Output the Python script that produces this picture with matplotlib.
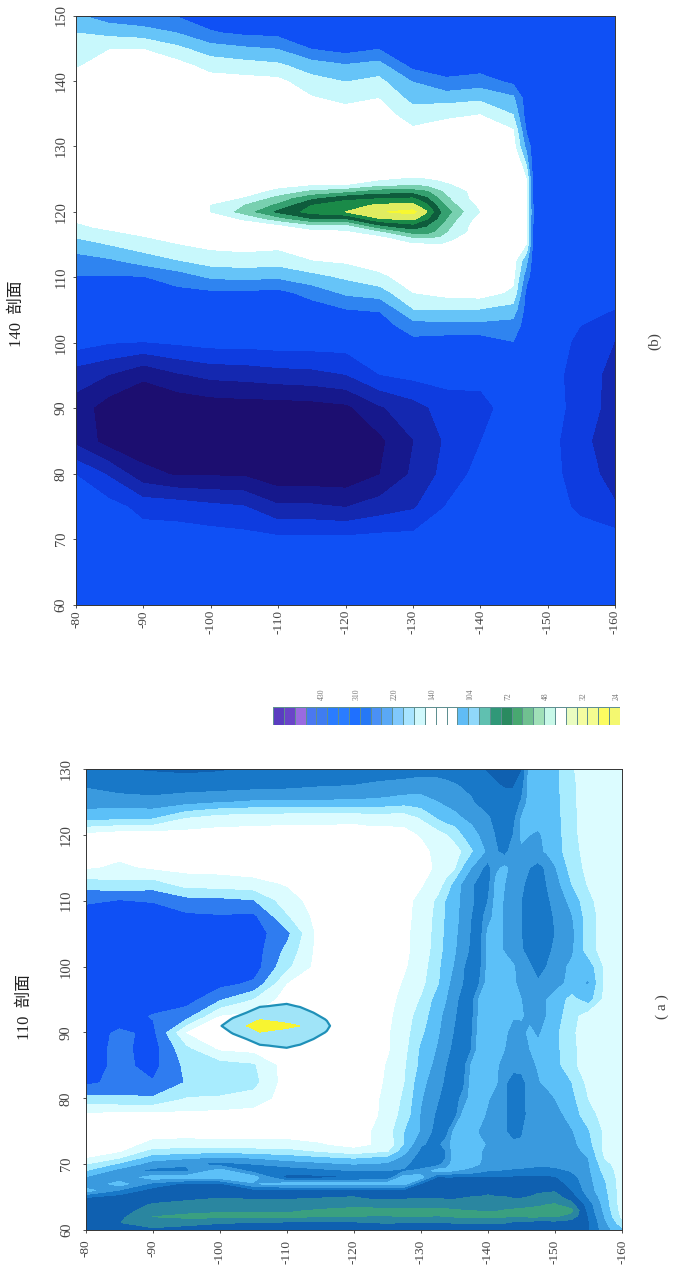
# -*- coding: utf-8 -*-
# 110 / 140 profiles, class values
import numpy as np
import matplotlib
matplotlib.use('Agg')
import matplotlib.pyplot as plt
from matplotlib.colors import ListedColormap

W, H = 676, 1278

# class index: 0 = white, positive = towards dark blue, negative = towards green
depth_a = [80, 85, 90, 95, 100, 105, 110, 115, 120, 122.5, 125, 127.5,
           130, 132.5, 133.75, 135, 136.25, 137.5, 138.75, 140, 141.25, 142.5, 143.75, 145, 146.25, 147.5, 148.75, 150,
           152.5, 155, 157.5, 160]
lon_a = [60, 61, 62, 63, 64, 65, 66, 67, 68, 69, 70, 71, 72, 73, 75, 77.5, 80, 82.5, 85, 87.5,
         90, 92.5, 95, 97.5, 100, 102.5, 105, 107.5, 110, 112.5, 115, 117.5, 120, 122.5, 125, 127.5, 130]
class_a = [
    [-6,-6.3,-6.4,-6.2,-6,-6,-6,-6,-6,-6,-6,-6, -6,-6,-6,-6,-6,-6,-6,-6,-6,-6,-6,-6,-6,-6,-6,-6, -6,-5.6,-3.9,-2.8],
    [-6,-6.5,-6.9,-6.8,-6.6,-6.5,-6.4,-6.4,-6.4,-6.5,-6.6,-6.5, -6.5,-6.5,-6.5,-6.6,-6.6,-6.6,-6.6,-6.6,-6.6,-6.6,-6.4,-6.2,-6.2,-6.1,-6.1,-6.2, -6,-5.6,-3.7,-2],
    [-6,-6.3,-7.6,-7.9,-7.9,-7.8,-7.8,-7.7,-7.7,-7.5,-7.5,-7.6, -7.6,-7.5,-7.6,-7.7,-7.8,-7.8,-7.8,-7.8,-7.7,-7.7,-7.7,-7.7,-7.8,-7.8,-7.8,-7.7, -7.2,-5.5,-3.4,-1.3],
    [-6,-6.1,-7,-7.2,-7.4,-7.4,-7.4,-7.7,-8,-8,-7.9,-7.9, -7.9,-7.9,-7.8,-7.7,-7.6,-7.6,-7.5,-7.5,-7.5,-7.6,-7.7,-7.8,-7.9,-8,-8,-8, -7.9,-5.2,-3.2,-1.1],
    [-6,-6,-6.6,-6.8,-6.9,-6.9,-6.9,-7,-7.1,-7,-7,-7, -7,-7,-7,-7,-7,-7,-7,-7,-7,-7.1,-7.1,-7.1,-7.2,-7.3,-7.5,-7.6, -6.9,-5,-3,-1],
    [-5.4,-6,-6,-6.3,-6.5,-6.4,-6.4,-6.5,-6.6,-6.4,-6.3,-6.4, -6.5,-6.5,-6.4,-6.4,-6.5,-6.6,-6.6,-6.7,-6.6,-6.6,-6.5,-6.5,-6.6,-6.8,-6.9,-7, -6.1,-4.4,-2.9,-1],
    [-3,-4.6,-6,-6,-6.1,-6,-6,-6,-6.1,-6,-6,-6, -6,-6,-6,-6,-6,-6.1,-6.2,-6.3,-6.2,-6.2,-6.1,-6.1,-6.2,-6.4,-6.4,-6.5, -5.5,-4,-2.7,-1],
    [-4.6,-3,-4.8,-5.8,-5.8,-3.6,-3,-3,-3,-3,-3,-3, -5.6,-6,-6,-6,-6,-6,-6,-6,-6,-6,-6,-6,-6,-6,-6,-6, -5.2,-3.9,-2.6,-1],
    [-3.6,-4.3,-3,-3,-3,-3,-5.9,-5.8,-5.6,-5.4,-5.2,-3, -3,-5.7,-5.6,-5.6,-5.6,-5.6,-5.6,-5.6,-5.6,-5.6,-5.7,-5.7,-5.7,-5.7,-5.7,-5.6, -4.9,-3.8,-2.4,-1],
    [-2.5,-3.9,-4.8,-4.7,-3,-5,-5.1,-4.8,-4.5,-4.5,-4.5,-4.6, -4.3,-3,-3.2,-3.5,-3.6,-3.8,-4.2,-4.5,-4.5,-4.6,-4.7,-4.8,-4.9,-5,-5,-4.9, -4.4,-3.7,-2.1,-1],
    [-1.5,-2.7,-4,-4.4,-4.9,-4.5,-4.1,-3.8,-3.5,-3.6,-3.7,-4.3, -5,-5,-4,-3.1,-3.1,-3.2,-3.5,-3.9,-3.9,-4,-4,-4,-4.1,-4.2,-4.2,-4.1, -4,-3.6,-1.8,-1],
    [-.5,-1.4,-3,-3.3,-3.6,-3.4,-3,-2.7,-2.4,-2.6,-2.8,-3.8, -5,-5,-4.5,-3,-3,-3,-3.4,-3.8,-3.9,-4,-4,-4,-4,-4,-4,-4, -4,-3.5,-1.4,-1],
    [0,-.4,-1.9,-2,-2.2,-2,-1.9,-1.4,-.9,-1.2,-1.4,-3.2, -4.7,-5,-4.5,-3,-3,-3,-3.4,-3.8,-3.9,-4,-4,-4,-4,-4,-4,-4, -3.9,-3.2,-1.2,-1],
    [0,0,-.9,-1,-.9,-.9,-.9,-.6,-.2,-.5,-.8,-2.6, -4.4,-4.8,-4,-3,-3,-3,-3.3,-3.6,-3.9,-4.2,-4.3,-4.4,-4.2,-4,-4,-4, -3.8,-2.9,-1.2,-.9],
    [0,0,0,0,0,0,0,0,0,-.5,-1.1,-2.5, -3.6,-5,-5,-3.2,-3,-3,-3.6,-3.9,-4.1,-4.4,-4.9,-4.6,-4,-4,-4,-4, -3.6,-2.6,-1.3,-1],
    [.3,0,.1,.2,.1,0,0,0,0,-.2,-.9,-1.9, -3.6,-4.7,-5,-5,-3.3,-3,-3.1,-3.7,-4,-4.4,-4.9,-4.9,-4.2,-4,-4,-4, -3,-2,-1,-.9],
    [2.1,2.3,2.3,1.4,1.4,1.1,0,0,0,-.2,-.8,-1.7, -3.4,-4.4,-5,-5,-4.2,-3.1,-3.1,-3.4,-3.9,-4.4,-5,-4.8,-4.1,-4,-4,-3.5, -2.8,-1.5,-1,-.9],
    [3.7,3.2,3.4,2.4,1.9,1.8,0,0,0,0,-.7,-1.5, -3.2,-4.1,-4.7,-5,-4.9,-3.2,-3,-3.1,-3.4,-4.3,-5,-4.8,-4.1,-3.6,-3.2,-3, -2.5,-1.2,-.9,-.9],
    [4,3.2,3.8,2.2,1.9,1.6,0,0,0,0,-.6,-1.4, -2.8,-3.9,-4.5,-5,-5,-3.4,-3,-3,-3.4,-3.8,-4.1,-4.2,-3.8,-3.4,-3.1,-2.9, -1.8,-.9,-.8,-.8],
    [4,3.2,3.9,1.7,.3,.1,0,0,0,0,-.4,-1.2, -2.7,-3.6,-4.2,-4.8,-5,-4.6,-3,-3,-3.1,-3.5,-4,-4,-3.5,-3.2,-3.1,-2.8, -1.8,-.9,-.8,-.8],
    [4,3.3,3.7,.4,0,0,0,0,0,0,-.4,-1.1, -2.3,-3.4,-3.9,-4.6,-5,-4.7,-3,-3,-3,-3.3,-3.9,-3.8,-3.3,-3.7,-3.1,-2.8, -1.7,-.9,-.8,-.8],
    [4,4,3.4,2.8,.4,.2,0,0,0,0,-.3,-1, -2,-3.2,-3.8,-4.4,-5,-4.9,-3.2,-3,-3,-3,-3.4,-3.4,-3.8,-4,-3.5,-3, -1.9,-1,-.8,-.8],
    [4,4,4,3.9,2.5,1.4,0,0,0,0,-.2,-.8, -1.6,-3,-3.5,-4.2,-4.9,-5,-3.3,-3,-3,-3,-3.3,-3.5,-3.9,-4.1,-3.5,-3.1, -2.2,-3,-1.2,-.8],
    [4,4,4,4,3.8,3.3,.5,0,0,0,-.1,-.6, -1.2,-2.4,-3.2,-3.9,-4.5,-5,-4.5,-3,-3,-3,-3.4,-3.7,-4,-4.4,-4.2,-3.9, -3.2,-3.6,-1.3,-.8],
    [4,4,4,4,4,4,1.7,0,0,0,0,-.4, -1,-2.3,-3,-3.6,-4.4,-5,-4.8,-3.2,-3,-3,-3.4,-3.9,-4.4,-4.9,-4.5,-4, -3.3,-3.1,-1.3,-.8],
    [4,4,4,4,4,4,2.2,0,0,0,0,-.3, -.9,-2,-2.9,-3.4,-4,-4.7,-5,-3.2,-3.1,-3.6,-4,-4.4,-4.9,-5,-4.8,-4.3, -3.7,-2,-1,-.7],
    [4,4,4,4,4,4,2.7,0,0,0,0,-.3, -.9,-1.9,-2.8,-3.3,-3.9,-4.6,-5,-3.3,-3.1,-3.6,-4.1,-4.5,-4.9,-5,-4.9,-4.5, -3.8,-2,-1,-.7],
    [4,4,4,3.7,3.6,3.7,1.6,0,0,0,0,-.2, -.9,-1.8,-2.7,-3.2,-3.8,-4.5,-5,-3.9,-3.1,-3.6,-4.1,-4.5,-4.9,-5,-4.9,-4.4, -3.6,-2,-1,-.7],
    [3.3,3.5,3.4,2.8,2.7,2.5,.9,0,0,0,0,-.2, -.8,-1.7,-2.6,-3.2,-3.7,-4.3,-4.9,-4.5,-3.1,-3.6,-4.1,-4.5,-4.9,-5,-4.7,-4.2, -3.2,-1.8,-.9,-.7],
    [2,1.7,1.9,1,1,.8,.4,0,0,0,0,0, -.4,-1.1,-1.8,-2.9,-3.7,-4.3,-4.9,-4.9,-3.2,-3.5,-4,-4.3,-4.9,-4.9,-4.5,-4, -2.5,-1.4,-.9,-.7],
    [.3,.7,.3,.2,.1,0,0,0,0,0,0,0, -.1,-.7,-1,-1.4,-2.6,-3.5,-4.2,-4.9,-3.7,-3.3,-3.8,-4.1,-4.5,-4.9,-4.3,-3.6, -2.1,-1.2,-.9,-.7],
    [0,.1,0,0,0,0,0,0,0,0,0,0, -.2,-.8,-1,-1.2,-1.6,-2.4,-3,-3.8,-4.4,-4.9,-3.9,-3.7,-4,-3.7,-3.4,-3, -1.9,-1.1,-.9,-.7],
    [-.3,0,0,-.1,-.1,-.1,-.1,-.1,0,-.1,-.1,-.2, -.6,-1.1,-1.5,-1.8,-2.6,-3,-3.6,-4.1,-4.6,-4.9,-4.5,-3.3,-3.5,-3.7,-3.2,-3, -1.8,-1,-.9,-.7],
    [-2.9,-2.7,-2.6,-1.5,-1,-.9,-.8,-.8,-.8,-.9,-.9,-.9, -1.6,-2.6,-3,-3.2,-3.5,-3.8,-4.1,-4.4,-4.8,-5,-4.9,-3.4,-3,-3,-3,-2.9, -1.8,-1,-.9,-.7],
    [-4,-4,-4.2,-3.9,-3.6,-3.4,-3.4,-3.4,-3.3,-3.3,-3.2,-3, -3.1,-3.5,-3.7,-3.9,-4.2,-4.4,-4.7,-4.9,-5,-5,-5,-4.4,-3,-3,-3,-2.9, -1.7,-1,-.9,-.7],
    [-4.6,-5,-5,-5,-5,-4.9,-4.8,-4.6,-4.5,-4.4,-4.3,-4.2, -4,-4,-4.2,-4.4,-4.6,-4.7,-4.9,-5.2,-5.4,-5.6,-5.6,-5,-3,-3,-3,-2.8, -1.7,-1,-.9,-.7],
    [-5.2,-5.5,-5.6,-5.7,-5.6,-5.4,-5.3,-5.2,-5,-5,-5,-5, -5,-5.1,-5.1,-5.2,-5.2,-5.3,-5.4,-5.6,-5.8,-5.9,-5.9,-5.6,-3,-3,-2.9,-2.8, -1.6,-1,-.9,-.7],
]

# small lens in panel a
lens_depth = [99, 100, 102, 104, 106, 108, 110, 112, 114, 116, 118]
lens_lon = [86, 87, 88, 89, 90, 91, 92, 93, 94, 95, 96]
lens_a = [
    [0, 0, 0, 0, 0, 0, 0, 0, 0, 0, 0],
    [0, 0, 0, 0, .4, .5, .6, .4, 0, 0, 0],
    [0, 0, .1, .5, .9, 1.05, 1.2, .9, .5, 0, 0],
    [0, 0, .6, 1, 1.7, 1.7, 1.6, 1.6, 1, .4, 0],
    [0, .5, 1.1, 2, 2.9, 2.3, 1.9, 1.9, 1.6, .9, 0],
    [0, .9, 1.6, 3, 5, 4.4, 3.7, 3, 2, 1.3, 0],
    [0, .5, 1.1, 2, 2.9, 2.3, 1.9, 1.9, 1.6, .9, 0],
    [0, 0, .6, 1, 1.7, 1.7, 1.6, 1.6, 1, .4, 0],
    [0, 0, .1, .5, .9, 1.05, 1.2, .9, .5, 0, 0],
    [0, 0, 0, 0, .4, .5, .6, .4, 0, 0, 0],
    [0, 0, 0, 0, 0, 0, 0, 0, 0, 0, 0],
]

depth_b = [80, 85, 90, 95, 100, 105, 110, 115, 120, 125, 130, 135, 140, 145, 147, 148, 150, 155, 160]
lon_b = [60, 65, 70, 75, 80, 85, 90, 95, 100, 102.5, 105, 107.5, 110, 112.5, 115, 117.5, 120,
         125, 130, 132.5, 135, 137.5, 140, 142.5, 145, 147.5, 150]
class_b = [
    [4, 4, 4, 4, 4, 4, 4, 4, 4, 4, 4, 4, 4, 4, 4, 4, 4, 4, 4],
    [4, 4, 4, 4, 4, 4, 4, 4, 4, 4, 4, 4, 4, 4, 4, 4, 4, 4, 4],
    [4, 4, 4, 4, 4, 4.1, 4.2, 4.2, 4.2, 4.1, 4.1, 4, 4, 4, 4, 4, 4, 4, 4],
    [4, 4.1, 4.8, 4.9, 5.2, 5.4, 6.3, 6.3, 6.5, 6, 5.6, 4.4, 4, 4, 4, 4, 4, 4.7, 5.4],
    [4.5, 5.6, 7.1, 7.6, 7.6, 7.6, 8.2, 8.2, 8.2, 7.5, 6.3, 5.1, 4.1, 4, 4, 4, 4, 5.1, 5.8],
    [6.7, 7.9, 8.3, 8.4, 8.3, 8.3, 8.3, 8.3, 8.3, 7.7, 6.5, 5.3, 4.5, 4, 4, 4, 4, 5.3, 5.9],
    [6.9, 8, 8.3, 8.3, 8.1, 8, 8, 7.9, 7.7, 6.6, 5.9, 5, 4.8, 4, 4, 4, 4, 4.9, 5.9],
    [6, 6.5, 7.3, 6.6, 6.2, 6.1, 5.9, 5.8, 5.5, 4.5, 4.2, 4.1, 4.2, 4, 4, 4, 4, 5, 5.8],
    [4, 4.4, 4.5, 4.3, 4.1, 4.1, 4, 4, 4, 4, 3.8, 4, 4, 3.5, 4, 4, 4, 4.7, 5.5],
    [4, 4, 4, 4, 4, 4, 4, 4, 4, 4, 2.9, 2.8, 2.8, 2.9, 4, 4, 4, 4.5, 5],
    [4, 4, 4, 4, 4, 4, 4, 4, 3.5, 3.4, 1.5, 1.5, 1.5, 1.9, 3.9, 4, 4, 4, 4.5],
    [3.9, 3.9, 3.9, 3.8, 3.7, 3.7, 3.8, 3.1, 2.3, 2, .5, .1, 0, .7, 3.8, 4, 4, 4, 4],
    [3.55, 3.55, 3.5, 3, 2.3, 2.2, 2.3, 1.8, 1.3, .7, 0, 0, 0, .2, 3.1, 4, 4, 4, 4],
    [2.9, 2.6, 2, 1.5, 1, .9, 1, .5, .3, 0, 0, 0, 0, 0, 2.2, 4, 4, 4, 4],
    [1.9, 1.4, .9, .5, .2, .1, .2, 0, 0, 0, 0, 0, 0, 0, .5, 3.8, 4, 4, 4],
    [.7, .3, 0, 0, 0, 0, 0, 0, 0, 0, 0, 0, 0, 0, .4, 3.6, 4, 4, 4],
    [0, 0, 0, 0, 0, 0, 0, 0, 0, 0, 0, 0, 0, 0, .3, 3.5, 4, 4, 4],
    [0, 0, 0, 0, 0, 0, 0, 0, 0, 0, 0, 0, 0, 0, .5, 3.8, 4, 4, 4],
    [0, 0, 0, 0, 0, 0, 0, 0, 0, 0, 0, 0, 0, 0, 2.8, 4, 4, 4, 4],
    [0, 0, 0, 0, 0, 0, 0, 0, 0, 0, .3, 0, 0, .4, 3.6, 4, 4, 4, 4],
    [0, 0, 0, 0, 0, 0, 0, 0, 0, 0, 1, .7, .5, 1.5, 4, 4, 4, 4, 4],
    [0, 0, 0, 0, 0, 0, 0, .4, .8, .5, 1.8, 1.9, 1.7, 2.3, 4, 4, 4, 4, 4],
    [0, 0, 0, 0, 0, .1, .2, 1.1, 1.5, 1.2, 2.5, 3.3, 3, 3.7, 4, 4, 4, 4, 4],
    [.6, 0, 0, .1, .9, 1.1, 1.3, 2, 2.4, 2.1, 3.8, 4, 4, 4, 4, 4, 4, 4, 4],
    [1, .5, .5, 1.2, 2, 2.3, 2.5, 3.5, 3.9, 3.5, 4, 4, 4, 4, 4, 4, 4, 4, 4],
    [1.5, 1.8, 2, 2.5, 3.4, 3.7, 3.8, 4, 4, 4, 4, 4, 4, 4, 4, 4, 4, 4, 4],
    [2.3, 3, 3.3, 3.5, 4, 4, 4, 4, 4, 4, 4, 4, 4, 4, 4, 4, 4, 4, 4],
]

# green tongue in panel b
tongue_depth = [97, 100, 105, 110, 115, 120, 125, 130, 132, 134, 136, 138, 141]
tongue_lon = [114, 115, 116, 117, 118, 119, 120, 121, 122, 123, 124, 125, 126]
tongue_b = [
    [0, 0, 0, 0, 0, 0, 0, 0, 0, 0, 0, 0, 0],
    [0, 0, 0, 0, 0, 0, 0, .7, .7, .9, .6, .2, 0],
    [0, 0, 0, 0, 0, 0, .5, 1.8, 2, 1.8, 1.1, .5, 0],
    [0, 0, 0, .2, .6, .8, 1.8, 3.5, 3.5, 2.6, 1.5, 1, 0],
    [0, 0, .4, .9, 1.9, 1.8, 4, 4.8, 4.1, 3.1, 1.9, 1.1, 0],
    [0, .3, 1.2, 2.6, 4, 4, 6, 6.4, 5.2, 3.7, 2.3, 1.3, .3],
    [0, 1, 2.4, 4.2, 5.4, 6, 6.9, 7.3, 6.1, 4.1, 2.8, 1.7, .6],
    [0, 1, 2, 3.2, 5, 5.5, 6.2, 6.3, 5.2, 3.5, 2.2, 1.4, .4],
    [0, .3, 1.1, 2.4, 3.8, 4.8, 5, 5.2, 4.2, 2.9, 1.7, 1.1, 0],
    [0, 0, .4, 1.4, 2.3, 2.8, 3.6, 3.6, 3.2, 2.2, 1.3, 1, 0],
    [0, 0, 0, .6, 1, 1, 1.8, 2, 1.9, 1.4, 1, .4, 0],
    [0, 0, 0, 0, 0, 0, .7, 1.2, 1, .8, .5, 0, 0],
    [0, 0, 0, 0, 0, 0, 0, 0, 0, 0, 0, 0, 0],
]

depth_ticks = [80, 90, 100, 110, 120, 130, 140, 150, 160]
lon_ticks_a = [60, 70, 80, 90, 100, 110, 120, 130]
lon_ticks_b = [60, 70, 80, 90, 100, 110, 120, 130, 140, 150]

bar_labels = ['430', '310', '220', '140', '104', '72', '48', '32', '24']
bar_label_pos = [4.5, 7.7, 11.2, 14.7, 18.2, 21.7, 25.2, 28.6, 31.7]
bar_colors = ['#5a3dc0', '#6a44c8', '#9a6ae0', '#4a78f0', '#3f7cf0', '#2a7cff', '#2a7cff', '#1f70ff',
              '#2678f5', '#4a90f5', '#5aa8f5', '#80c8fc', '#a8e4ff', '#d0f8fc', '#ffffff', '#ffffff',
              '#ffffff', '#60bcf5', '#90d8fa', '#60c0b0', '#309878', '#2a8a60', '#48a870', '#70c090',
              '#a0e0b8', '#c8f8e8', '#ffffff', '#eafcc0', '#f4fca0', '#f4fc90', '#fcfc60', '#f4f870']

levels_a = [-9, -7.5, -6.5, -5.5, -4.5, -3.5, -2.5, -1.5, -.5, .5, 1.5, 2.5, 3.5, 9]
colors_a = ['#3aa080', '#2a86a0', '#0f60b0', '#1878c8', '#3a9ade', '#5cc0f8', '#a8ecfe', '#dcfcff',
            '#ffffff', '#dcfcff', '#a8ecfe', '#2f7cf0', '#0f50f5']
levels_b = [-1, .5, 1.5, 2.5, 3.5, 4.5, 5.5, 6.5, 7.5, 10]
colors_b = ['#ffffff', '#c8f8fc', '#66c4f8', '#2f84f0', '#0f50f5', '#0e3ce0', '#1428b0', '#16188c', '#1c0e70']
tongue_levels = [1, 2, 3, 4, 5, 6, 7, 99]
tongue_colors = ['#c8f8f8', '#78d0b0', '#35a070', '#0e5c3c', '#1a8a48', '#e0ec60', '#f8f830']

TEXT = '#444444'
SERIF = ['Liberation Serif', 'Noto Sans CJK SC']
plt.rcParams['font.family'] = SERIF


def box(x0, y0, x1, y1):
    # pixel box (top-left origin) to figure fractions
    return [x0 / W, 1 - y1 / H, (x1 - x0) / W, (y1 - y0) / H]


def panel(rect, lon_max, lon_ticks, pad_x, pad_y):
    ax = fig.add_axes(box(*rect))
    ax.set_xlim(80, 160)
    ax.set_ylim(60, lon_max)
    ax.set_xticks(depth_ticks)
    ax.set_xticklabels(['-%d' % d for d in depth_ticks], rotation=90, fontsize=9.5, color=TEXT)
    ax.set_yticks(lon_ticks)
    ax.set_yticklabels([str(v) for v in lon_ticks], rotation=90, va='center', fontsize=10.5, color=TEXT)
    ax.tick_params(axis='x', length=2, width=.6, pad=pad_x, color='#333333')
    ax.tick_params(axis='y', length=2, width=.6, pad=pad_y, color='#333333')
    for s in ax.spines.values():
        s.set_linewidth(.7)
        s.set_color('#333333')
    return ax


fig = plt.figure(figsize=(W / 100, H / 100), dpi=100)

# 140 profile
ax_b = panel((76, 15.5, 615, 604.5), 150, lon_ticks_b, 2, 4)
ax_b.contourf(depth_b, lon_b, class_b, levels=levels_b, colors=colors_b)
ax_b.contourf(tongue_depth, tongue_lon, tongue_b, levels=tongue_levels, colors=tongue_colors)

# 110 profile
ax_a = panel((85.5, 769, 622, 1230), 130, lon_ticks_a, 5, 7)
ax_a.contourf(depth_a, lon_a, class_a, levels=levels_a, colors=colors_a)
ax_a.contourf(lens_depth, lens_lon, lens_a, levels=[1, 3, 99], colors=['#a0e4f8', '#f8f430'])
ax_a.contour(lens_depth, lens_lon, lens_a, levels=[1], colors='#1f90b8', linewidths=1.6)

# colour scale between the panels
ax_bar = fig.add_axes(box(273, 707, 620, 725))
cell_index = np.arange(len(bar_colors)).reshape(1, -1)
ax_bar.pcolormesh(np.arange(len(bar_colors) + 1), [0, 1], cell_index,
                  cmap=ListedColormap(bar_colors), edgecolors='#5f8f90', linewidth=.5)
ax_bar.set_xticks(bar_label_pos)
ax_bar.set_xticklabels(bar_labels, rotation=90, fontsize=5.5, color='#777777')
ax_bar.xaxis.tick_top()
ax_bar.set_yticks([])
ax_bar.tick_params(axis='x', length=0, pad=5)
for s in ax_bar.spines.values():
    s.set_visible(False)

# titles and panel letters, everything turned with the page
fig.text(25 / W, 1 - 1007 / H, '110  剖面', rotation=90, ha='center', va='center', fontsize=12, color='#222222')
fig.text(17 / W, 1 - 314 / H, '140  剖面', rotation=90, ha='center', va='center', fontsize=12, color='#222222')
fig.text(662 / W, 1 - 1007 / H, '( a )', rotation=90, ha='center', va='center', fontsize=11, color=TEXT)
fig.text(655 / W, 1 - 341 / H, '(b)', rotation=90, ha='center', va='center', fontsize=11, color=TEXT)

fig.savefig('out.png', dpi=100)
